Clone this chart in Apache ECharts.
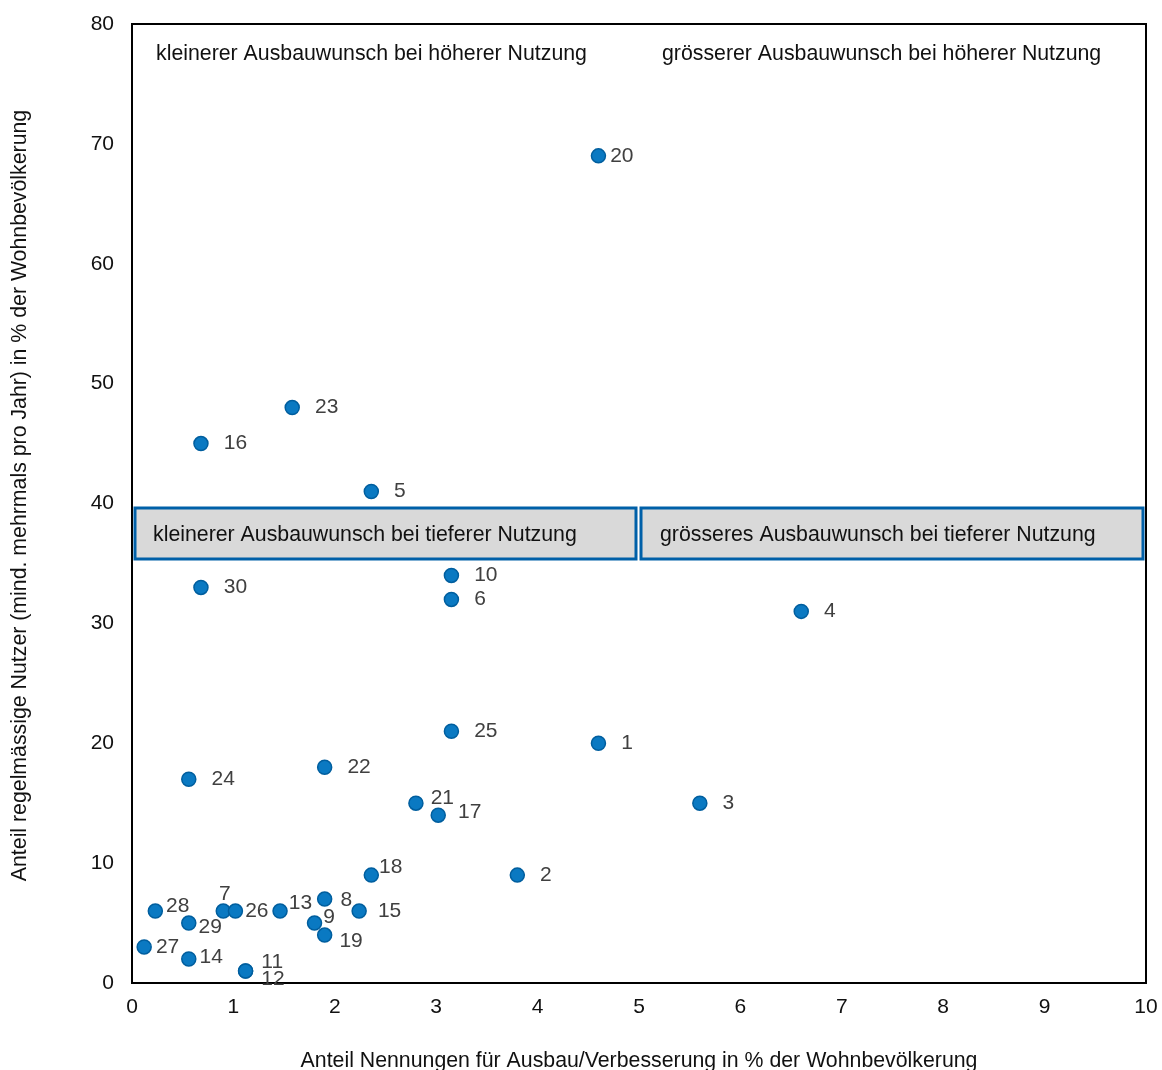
<!DOCTYPE html>
<html>
<head>
<meta charset="utf-8">
<script src="https://cdn.jsdelivr.net/npm/echarts@6/dist/echarts.min.js"></script>
<style>
html,body{margin:0;padding:0;background:#fff;}
#chart{width:1162px;height:1070px;}
</style>
</head>
<body>
<div id="chart"></div>
<script>
// ---- Data ----
const ids = ['1','2','3','4','5','6','7','8','9','10','11','12','13','14','15','16','17','18','19','20','21','22','23','24','25','26','27','28','29','30'];
const xValues = [4.6, 3.8, 5.6, 6.6, 2.36, 3.15, 0.9, 1.9, 1.8, 3.15, 1.12, 1.12, 1.46, 0.56, 2.24, 0.68, 3.02, 2.36, 1.9, 4.6, 2.8, 1.9, 1.58, 0.56, 3.15, 1.02, 0.12, 0.23, 0.56, 0.68];
const yValues = [20, 9, 15, 31, 41, 32, 6, 7, 5, 34, 1, 1, 6, 2, 6, 45, 14, 9, 4, 69, 15, 18, 48, 17, 21, 6, 3, 6, 5, 33];
const xTicks = ['0','1','2','3','4','5','6','7','8','9','10'];
const yTicks = ['0','10','20','30','40','50','60','70','80'];
const xTitle = 'Anteil Nennungen für Ausbau/Verbesserung in % der Wohnbevölkerung';
const yTitle = 'Anteil regelmässige Nutzer (mind. mehrmals pro Jahr) in % der Wohnbevölkerung';
const quadrantTop = ['kleinerer Ausbauwunsch bei höherer Nutzung', 'grösserer Ausbauwunsch bei höherer Nutzung'];
const quadrantBottom = ['kleinerer Ausbauwunsch bei tieferer Nutzung', 'grösseres Ausbauwunsch bei tieferer Nutzung'];

// ---- Label placement (style) ----
const labelOffsets = {
  '20': [4, 0], '21': [7, -5], '17': [12, -3], '18': [0, -8], '28': [3, -5],
  '7': [-12, -17], '26': [2, 0], '13': [1, -8], '8': [8, 1], '15': [11, 0],
  '9': [1, -6], '29': [2, 4], '19': [7, 6], '27': [4, 0], '14': [3, -2],
  '11': [8, -9], '12': [8, 8]
};

const FONT = '"Liberation Sans", Arial, sans-serif';
const FS = 21;
const FS2 = 21.3;

const data = ids.map((id, i) => ({ value: [xValues[i], yValues[i]], name: id }));

const chart = echarts.init(document.getElementById('chart'));
chart.setOption({
  animation: false,
  backgroundColor: '#fff',
  textStyle: { fontFamily: FONT },
  grid: { left: 132, width: 1014, top: 24, height: 959, outerBoundsMode: 'none', containLabel: false, show: true, borderColor: '#000', borderWidth: 2, backgroundColor: 'transparent' },
  xAxis: {
    type: 'value', min: 0, max: 10, interval: 1,
    name: xTitle, nameLocation: 'middle', nameGap: 68,
    nameTextStyle: { fontSize: FS2, color: '#111', fontFamily: FONT },
    axisLine: { show: true, lineStyle: { color: '#000', width: 2 } },
    axisTick: { show: false },
    splitLine: { show: false },
    axisLabel: { fontSize: FS, color: '#111', margin: 14, fontFamily: FONT, formatter: (v) => xTicks[Math.round(v)] }
  },
  yAxis: {
    type: 'value', min: 0, max: 80, interval: 10,
    name: yTitle, nameLocation: 'middle', nameGap: 101, nameRotate: 90,
    nameTextStyle: { fontSize: FS2, color: '#111', fontFamily: FONT, padding: [0, 0, 0, 16] },
    axisLine: { show: true, lineStyle: { color: '#000', width: 2 } },
    axisTick: { show: false },
    splitLine: { show: false },
    axisLabel: { fontSize: FS, color: '#111', margin: 18, fontFamily: FONT, formatter: (v) => yTicks[Math.round(v / 10)] }
  },
  series: [{
    type: 'scatter',
    symbol: 'circle',
    symbolSize: 14,
    itemStyle: { color: '#0A79C2', borderColor: '#005E9E', borderWidth: 1.5, opacity: 1 },
    label: {
      show: true, position: 'right', distance: 0,
      formatter: (p) => p.name,
      fontSize: FS, color: '#404040', fontFamily: FONT
    },
    labelLayout: function (params) {
      const id = ids[params.dataIndex];
      const o = labelOffsets[id] || [15, 0];
      return { dx: o[0], dy: o[1], hideOverlap: false };
    },
    data: data,
    z: 5
  }],
  graphic: [
    { type: 'text', left: 156, top: 44, style: { text: quadrantTop[0], fill: '#111', font: FS2 + 'px ' + FONT } },
    { type: 'text', left: 662, top: 44, style: { text: quadrantTop[1], fill: '#111', font: FS2 + 'px ' + FONT } },
    { type: 'rect', shape: { x: 135, y: 508, width: 501, height: 51 }, style: { fill: '#D9D9D9', stroke: '#0060A8', lineWidth: 3 }, z: 10 },
    { type: 'rect', shape: { x: 641, y: 508, width: 502, height: 51 }, style: { fill: '#D9D9D9', stroke: '#0060A8', lineWidth: 3 }, z: 10 },
    { type: 'text', left: 153, top: 525, z: 11, style: { text: quadrantBottom[0], fill: '#111', font: FS2 + 'px ' + FONT } },
    { type: 'text', left: 660, top: 525, z: 11, style: { text: quadrantBottom[1], fill: '#111', font: FS2 + 'px ' + FONT } }
  ]
});
</script>
</body>
</html>
